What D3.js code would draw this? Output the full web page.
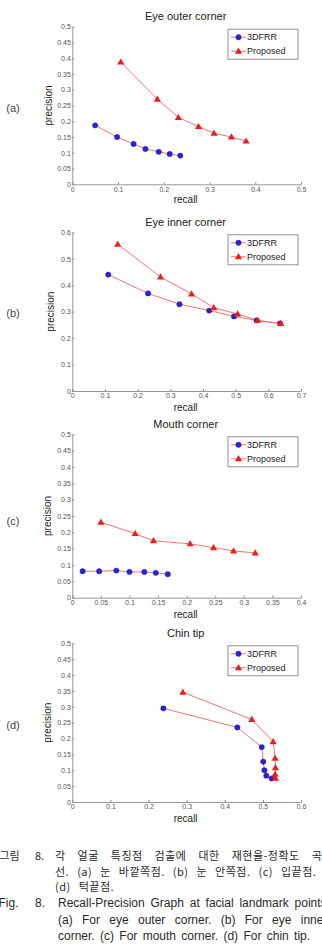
<!DOCTYPE html>
<html>
<head>
<meta charset="utf-8">
<script src="https://d3js.org/d3.v7.min.js"></script>
<style>
    body { margin: 0; background: #fff; }
    svg { display: block; font-family: "Liberation Sans", Arial, sans-serif; }
</style>
</head>
<body>
<div id="chart"></div>
<script>
// chart values
var titles = ["Eye outer corner", "Eye inner corner", "Mouth corner", "Chin tip"];
var tags = ["(a)", "(b)", "(c)", "(d)"];
var seriesNames = ["3DFRR", "Proposed"];

var xTicks = [
    [0, 0.1, 0.2, 0.3, 0.4, 0.5],
    [0, 0.1, 0.2, 0.3, 0.4, 0.5, 0.6, 0.7],
    [0, 0.05, 0.1, 0.15, 0.2, 0.25, 0.3, 0.35, 0.4],
    [0, 0.1, 0.2, 0.3, 0.4, 0.5, 0.6]
];
var yTicks = [
    [0, 0.05, 0.1, 0.15, 0.2, 0.25, 0.3, 0.35, 0.4, 0.45, 0.5],
    [0, 0.1, 0.2, 0.3, 0.4, 0.5, 0.6],
    [0, 0.05, 0.1, 0.15, 0.2, 0.25, 0.3, 0.35, 0.4, 0.45, 0.5],
    [0, 0.05, 0.1, 0.15, 0.2, 0.25, 0.3, 0.35, 0.4, 0.45, 0.5]
];

var frrRecall = [
    [0.050, 0.098, 0.134, 0.160, 0.189, 0.213, 0.236],
    [0.110, 0.232, 0.328, 0.419, 0.495, 0.564, 0.636],
    [0.018, 0.047, 0.077, 0.100, 0.126, 0.146, 0.167],
    [0.239, 0.433, 0.497, 0.501, 0.504, 0.509, 0.523]
];
var frrPrecision = [
    [0.187, 0.150, 0.128, 0.112, 0.103, 0.096, 0.091],
    [0.440, 0.369, 0.328, 0.304, 0.282, 0.267, 0.255],
    [0.081, 0.081, 0.083, 0.079, 0.079, 0.076, 0.072],
    [0.295, 0.235, 0.173, 0.127, 0.100, 0.083, 0.074]
];
var propRecall = [
    [0.106, 0.186, 0.232, 0.276, 0.310, 0.348, 0.380],
    [0.139, 0.270, 0.365, 0.433, 0.506, 0.568, 0.638],
    [0.050, 0.110, 0.142, 0.206, 0.247, 0.282, 0.320],
    [0.290, 0.471, 0.527, 0.532, 0.533, 0.532, 0.533]
];
var propPrecision = [
    [0.388, 0.270, 0.212, 0.183, 0.162, 0.150, 0.137],
    [0.555, 0.431, 0.367, 0.315, 0.291, 0.267, 0.255],
    [0.231, 0.196, 0.174, 0.165, 0.153, 0.143, 0.137],
    [0.346, 0.260, 0.190, 0.138, 0.108, 0.087, 0.075]
];

var captionKo = [
    ["그림", "8.", "각 얼굴 특징점 검출에 대한 재현율-정확도 곡"],
    ["", "", "선. (a) 눈 바깥쪽점. (b) 눈 안쪽점. (c) 입끝점."],
    ["", "", "(d) 턱끝점."]
];
var captionEn = [
    ["Fig.", "8.", "Recall-Precision Graph at facial landmark points."],
    ["", "", "(a) For eye outer corner. (b) For eye inner"],
    ["", "", "corner. (c) For mouth corner. (d) For chin tip."]
];

// layout
var W = 322, H = 946;
var plotLeft = 72.3, plotRight = 301;
var panels = [
    { top: 26.7, bottom: 184.3, titleY: 16, recallY: 199, tagY: 108, precX: 48 },
    { top: 232.3, bottom: 391, titleY: 221.7, recallY: 407, tagY: 313, precX: 50 },
    { top: 434.3, bottom: 597.7, titleY: 424, recallY: 614, tagY: 521, precX: 47 },
    { top: 643.3, bottom: 802, titleY: 633, recallY: 818, tagY: 725, precX: 47 }
];

var lineColor = "#f26464";
var blue = "#2a22d8";
var red = "#ee1c1c";

var svg = d3.select("#chart").append("svg")
    .attr("width", W).attr("height", H);
svg.append("rect").attr("width", W).attr("height", H).attr("fill", "#fff");

var fmt = function(d) { return String(+d.toFixed(2)); };
var tri = d3.symbol().type(d3.symbolTriangle).size(22);

function drawMarkers(g, pts, kind) {
    if (kind == 0) {
        g.selectAll(null).data(pts).enter().append("circle")
            .attr("cx", function(d) { return d[0]; })
            .attr("cy", function(d) { return d[1]; })
            .attr("r", 2.7)
            .attr("fill", blue).attr("stroke", "#1a14a8").attr("stroke-width", 0.4);
    } else {
        g.selectAll(null).data(pts).enter().append("path")
            .attr("d", tri)
            .attr("transform", function(d) { return "translate(" + d[0] + "," + (d[1] + 0.4) + ")"; })
            .attr("fill", red);
    }
}

panels.forEach(function(p, i) {
    var x = d3.scaleLinear()
        .domain([0, xTicks[i][xTicks[i].length - 1]])
        .range([plotLeft, plotRight]);
    var y = d3.scaleLinear()
        .domain([0, yTicks[i][yTicks[i].length - 1]])
        .range([p.bottom, p.top]);

    var g = svg.append("g");

    var xa = g.append("g").attr("transform", "translate(0," + p.bottom + ")")
        .call(d3.axisBottom(x).tickValues(xTicks[i]).tickFormat(fmt)
            .tickSizeInner(-2).tickSizeOuter(0).tickPadding(2.5));
    var ya = g.append("g").attr("transform", "translate(" + plotLeft + ",0)")
        .call(d3.axisLeft(y).tickValues(yTicks[i]).tickFormat(fmt)
            .tickSizeInner(-2).tickSizeOuter(0).tickPadding(1.5));
    [xa, ya].forEach(function(a) {
        a.select(".domain").attr("stroke", "#8a8a8a").attr("stroke-width", 0.9);
        a.selectAll(".tick line").attr("stroke", "#8a8a8a");
        a.selectAll(".tick text").attr("fill", "#555").style("font-size", "7px")
            .style("font-family", "Liberation Sans, Arial, sans-serif");
    });

    g.append("text").attr("x", (plotLeft + plotRight) / 2 - 1).attr("y", p.titleY)
        .attr("text-anchor", "middle").attr("dominant-baseline", "central")
        .style("font-size", "11px").attr("fill", "#222").text(titles[i]);
    g.append("text").attr("x", (plotLeft + plotRight) / 2 - 1).attr("y", p.recallY)
        .attr("text-anchor", "middle").attr("dominant-baseline", "central")
        .style("font-size", "10px").attr("fill", "#222").text("recall");
    g.append("text")
        .attr("transform", "translate(" + p.precX + "," + ((p.top + p.bottom) / 2) + ") rotate(-90)")
        .attr("text-anchor", "middle").attr("dominant-baseline", "central")
        .style("font-size", "10px").attr("fill", "#222").text("precision");
    g.append("text").attr("x", 13).attr("y", p.tagY)
        .attr("text-anchor", "middle").attr("dominant-baseline", "central")
        .style("font-size", "11px").attr("fill", "#444").text(tags[i]);

    var line = d3.line();
    var s1 = frrRecall[i].map(function(v, k) { return [x(v), y(frrPrecision[i][k])]; });
    var s2 = propRecall[i].map(function(v, k) { return [x(v), y(propPrecision[i][k])]; });

    g.append("path").attr("d", line(s1)).attr("fill", "none")
        .attr("stroke", lineColor).attr("stroke-width", 0.9);
    g.append("path").attr("d", line(s2)).attr("fill", "none")
        .attr("stroke", lineColor).attr("stroke-width", 0.9);
    drawMarkers(g, s1, 0);
    drawMarkers(g, s2, 1);

    // legend
    var lw = 70, lh = 30;
    var lx = plotRight - 3 - lw, ly = p.top + 2.5;
    var lg = g.append("g").attr("transform", "translate(" + lx + "," + ly + ")");
    lg.append("rect").attr("width", lw).attr("height", lh)
        .attr("fill", "#fff").attr("stroke", "#777").attr("stroke-width", 0.8);
    seriesNames.forEach(function(name, k) {
        var ry = 8 + k * 14;
        lg.append("line").attr("x1", 3).attr("x2", 18).attr("y1", ry).attr("y2", ry)
            .attr("stroke", lineColor).attr("stroke-width", 0.9);
        drawMarkers(lg, [[10.5, ry]], k);
        lg.append("text").attr("x", 19).attr("y", ry).attr("dominant-baseline", "central")
            .style("font-size", "9px").attr("fill", "#222").text(name);
    });
});

// caption
var cap = svg.append("g").attr("fill", "#2a2a2a");
var koSpacing = ["9px", "5px", "5px"];
captionKo.forEach(function(row, k) {
    var cy = 855 + k * 15.5;
    cap.append("text").attr("x", -0.5).attr("y", cy).attr("dominant-baseline", "central")
        .style("font-family", "Noto Sans CJK KR").style("font-size", "11px").text(row[0]);
    cap.append("text").attr("x", 35).attr("y", cy).attr("dominant-baseline", "central")
        .style("font-family", "Noto Sans CJK KR").style("font-size", "11px").text(row[1]);
    cap.append("text").attr("x", 55).attr("y", cy).attr("dominant-baseline", "central")
        .style("font-family", "Noto Sans CJK KR").style("font-size", "11px")
        .style("letter-spacing", "0.5px").style("word-spacing", koSpacing[k]).text(row[2]);
});
var enSpacing = ["2.5px", "6px", "2px"];
captionEn.forEach(function(row, k) {
    var cy = 903 + k * 16.5;
    cap.append("text").attr("x", -1.5).attr("y", cy).attr("dominant-baseline", "central")
        .style("font-size", "12px").text(row[0]);
    cap.append("text").attr("x", 35).attr("y", cy).attr("dominant-baseline", "central")
        .style("font-size", "12px").text(row[1]);
    cap.append("text").attr("x", 58).attr("y", cy).attr("dominant-baseline", "central")
        .style("font-size", "12px").style("word-spacing", enSpacing[k]).text(row[2]);
});
</script>
</body>
</html>
